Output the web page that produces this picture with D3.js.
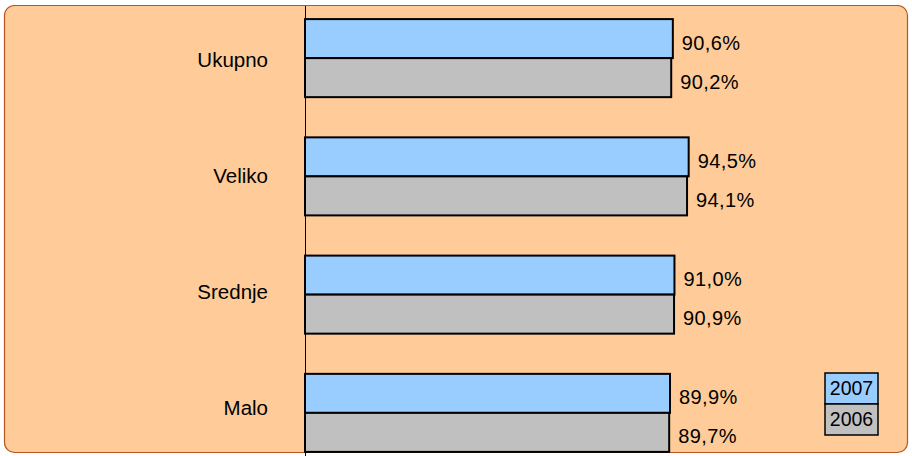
<!DOCTYPE html>
<html><head><meta charset="utf-8">
<script src="https://cdn.jsdelivr.net/npm/d3@7"></script>
<style>html,body{margin:0;padding:0;background:#fff;}svg{display:block;font-family:"Liberation Sans",Arial,sans-serif;}</style>
</head><body>
<svg id="c" width="912" height="456"></svg>
<script>
const categories = ["Ukupno", "Veliko", "Srednje", "Malo"];
const series = ["2007", "2006"];
const values2007 = [90.6, 94.5, 91.0, 89.9];
const values2006 = [90.2, 94.1, 90.9, 89.7];
const seriesColors = ["#99CCFF", "#C0C0C0"];

const svg = d3.select("#c");
svg.append("rect").attr("x", 4.5).attr("y", 5.5).attr("width", 903).attr("height", 447)
  .attr("rx", 10).attr("fill", "#FFCC99").attr("stroke", "#B5561E").attr("stroke-width", 1.2);

const x = d3.scaleLinear().domain([0, 100]).range([305, 711]);
const y = d3.scaleBand().domain(categories).range([-1, 472]).paddingInner(0.34).paddingOuter(0.17);
const sub = d3.scaleBand().domain(series).range([0, y.bandwidth()]);
// category label positions (slightly tighter than bars, as in the original)
const yLab = d3.scaleBand().domain(categories).range([2, 466]);

const data = [];
categories.forEach((c, i) => {
  data.push({cat: c, s: "2007", v: values2007[i], col: seriesColors[0]});
  data.push({cat: c, s: "2006", v: values2006[i], col: seriesColors[1]});
});

const fmt = v => d3.format(".1f")(v).replace(".", ",") + "%";

svg.append("g").selectAll("text").data(data).join("text")
  .attr("x", d => x(d.v) + 9).attr("y", d => y(d.cat) + sub(d.s) + sub.bandwidth() / 2 + 4)
  .attr("dy", "0.35em").style("font-size", "20px").style("letter-spacing", "0.4px")
  .attr("fill", "#000").text(d => fmt(d.v));

svg.append("g").selectAll("rect").data(data).join("rect")
  .attr("x", x(0)).attr("y", d => y(d.cat) + sub(d.s))
  .attr("width", d => x(d.v) - x(0)).attr("height", sub.bandwidth())
  .attr("fill", d => d.col).attr("stroke", "#000").attr("stroke-width", 2);

// category axis
const yAxis = d3.axisLeft(yLab).tickSize(0).tickPadding(37);
const ga = svg.append("g").attr("transform", `translate(${x(0)},0)`).call(yAxis);
ga.select(".domain").remove();
ga.selectAll("text").style("font-size", "20.5px").style("font-family", "Liberation Sans, Arial, sans-serif").attr("fill", "#000");
svg.append("line").attr("x1", x(0) + 0.5).attr("x2", x(0) + 0.5).attr("y1", 6).attr("y2", 456)
  .attr("stroke", "#000").attr("stroke-width", 1);

// legend
const lg = svg.append("g").attr("transform", "translate(825,373)");
series.forEach((s, i) => {
  lg.append("rect").attr("x", 0).attr("y", i * 31).attr("width", 53).attr("height", 31)
    .attr("fill", seriesColors[i]).attr("stroke", "#000").attr("stroke-width", 1.5);
  lg.append("text").attr("x", 26.5).attr("y", i * 31 + 15.5).attr("dy", "0.35em")
    .attr("text-anchor", "middle").style("font-size", "19.5px").text(s);
});
</script>
</body></html>
